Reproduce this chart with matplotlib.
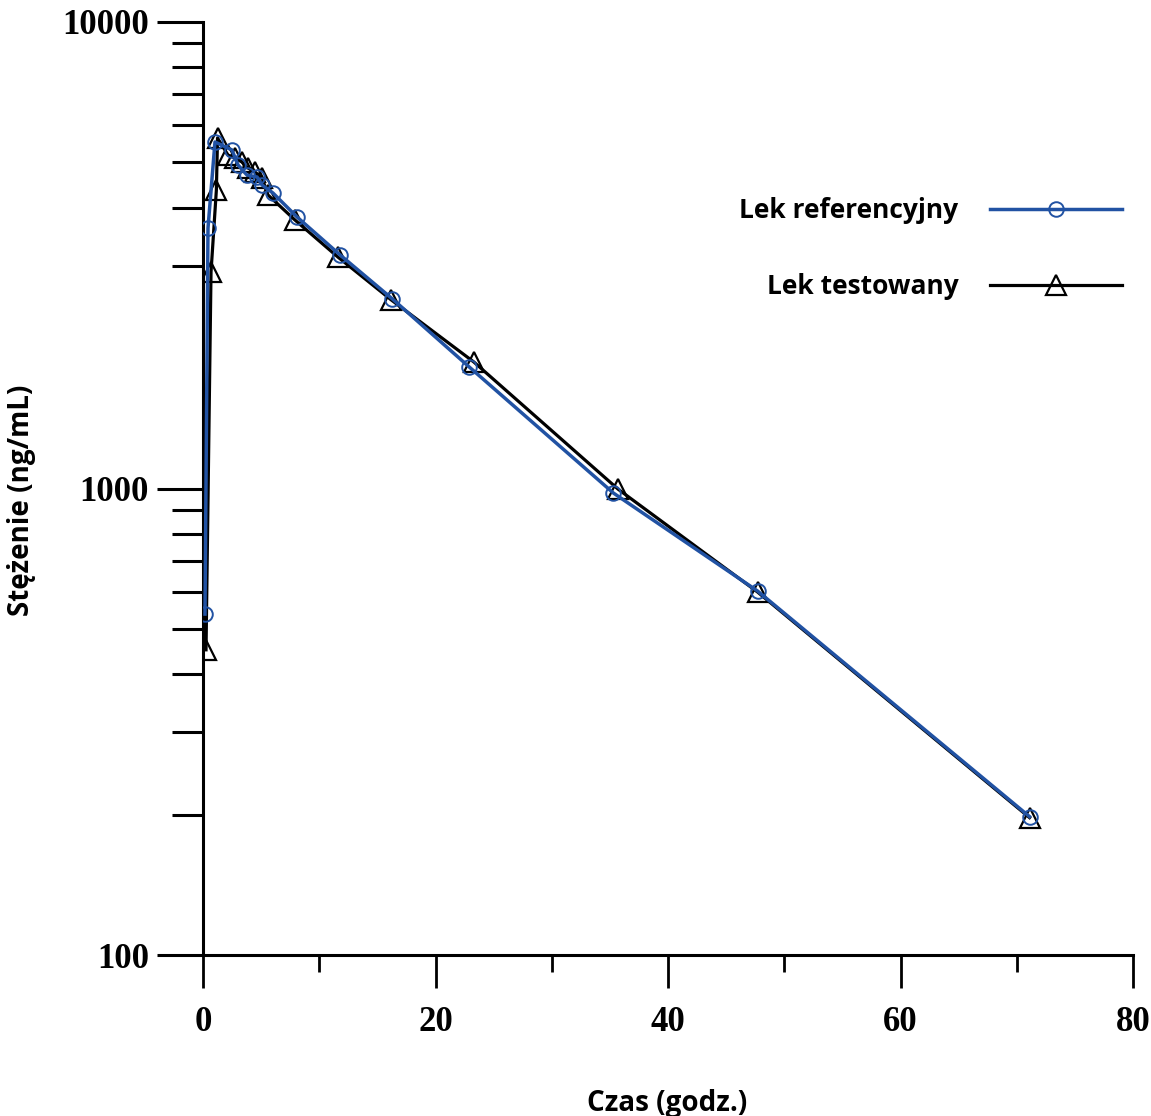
import matplotlib.pyplot as plt
from matplotlib.ticker import FixedLocator, NullFormatter

# czas (godz.) i stezenie (ng/mL)
t_ref = [0.17, 0.43, 1.03, 2.49, 3.01, 3.78, 4.65, 5.08, 6.02, 8.09, 11.8, 16.3, 22.9, 35.3, 47.7, 71.1]
c_ref = [538, 3617, 5531, 5317, 4938, 4699, 4653, 4473, 4299, 3819, 3166, 2548, 1822, 978, 603, 198]

t_test = [0.26, 0.69, 1.15, 1.25, 2.15, 2.75, 3.35, 3.87, 4.47, 5.08, 5.59, 7.91, 11.6, 16.2, 23.3, 35.7, 47.7, 71.1]
c_test = [451, 2912, 4364, 5641, 5186, 5110, 5010, 4864, 4770, 4630, 4258, 3763, 3135, 2536, 1867, 997, 600, 197]

labels = ["Lek referencyjny", "Lek testowany"]
xticks_major = [0, 20, 40, 60, 80]
xticks_minor = [10, 30, 50, 70]
yticks_major = [100, 1000, 10000]
# w oryginale brak kreski dla 2000
yticks_minor = [200, 300, 400, 500, 600, 700, 800, 900,
                3000, 4000, 5000, 6000, 7000, 8000, 9000]

blue = "#2152a3"
sans = "Open Sans"
serif = "Liberation Serif"

fig = plt.figure(figsize=(11.51, 11.16), dpi=100)
ax = fig.add_axes([203 / 1151, 1 - 955 / 1116, 930 / 1151, 933 / 1116])

ax.plot(t_test, c_test, color="black", lw=2.3, marker="^", ms=14,
        mfc="none", mec="black", mew=1.6, label=labels[1], zorder=3)
ax.plot(t_ref, c_ref, color=blue, lw=2.5, marker="o", ms=10.5,
        mfc="none", mec=blue, mew=1.4, label=labels[0], zorder=4)

ax.set_yscale("log")
ax.set_xlim(0, 80)
ax.set_ylim(100, 10000)

ax.xaxis.set_major_locator(FixedLocator(xticks_major))
ax.xaxis.set_minor_locator(FixedLocator(xticks_minor))
ax.yaxis.set_major_locator(FixedLocator(yticks_major))
ax.yaxis.set_minor_locator(FixedLocator(yticks_minor))
ax.yaxis.set_minor_formatter(NullFormatter())
ax.set_yticklabels([str(v) for v in yticks_major])
ax.set_xticklabels([str(v) for v in xticks_major])

for s in ("top", "right"):
    ax.spines[s].set_visible(False)
for s in ("left", "bottom"):
    ax.spines[s].set_linewidth(2.2)

ax.tick_params(axis="x", which="major", direction="out", length=24, width=2, pad=13)
ax.tick_params(axis="x", which="minor", direction="out", length=12, width=2)
ax.tick_params(axis="y", which="major", direction="out", length=33, width=2.2, pad=6)
ax.tick_params(axis="y", which="minor", direction="out", length=22, width=2.2)

for lab in ax.get_xticklabels() + ax.get_yticklabels():
    lab.set_fontfamily(serif)
    lab.set_fontweight("bold")
    lab.set_fontsize(25)

fig.text(667 / 1151, 1 - 1103 / 1116, "Czas (godz.)", ha="center", va="center",
         fontfamily=sans, fontweight="bold", fontsize=20)
fig.text(22 / 1151, 1 - 500 / 1116, "Stężenie (ng/mL)", ha="center", va="center",
         rotation=90, fontfamily=sans, fontweight="bold", fontsize=20)

h, l = ax.get_legend_handles_labels()
leg = ax.legend(h[::-1], l[::-1], loc="upper right", bbox_to_anchor=(1122 / 1151, 1 - 197 / 1116),
                bbox_transform=fig.transFigure, frameon=False, markerfirst=False,
                handlelength=5.0, handletextpad=1.2, labelspacing=1.85, borderpad=0,
                borderaxespad=0, numpoints=1,
                prop={"family": sans, "weight": "bold", "size": 19})

fig.savefig("out.png", dpi=100)
